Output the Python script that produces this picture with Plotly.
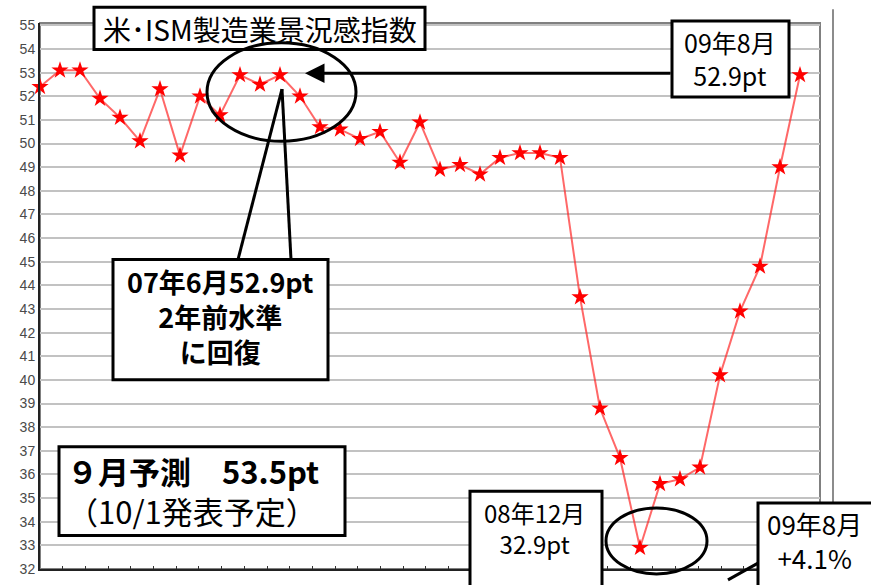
import plotly.graph_objects as go

# ---- data ----
months = [f"{2006 + (5 + i) // 12:04d}/{(5 + i) % 12 + 1:02d}" for i in range(39)]
ism = [52.4, 53.1, 53.1, 51.9, 51.1, 50.1, 52.3, 49.5, 52.0, 51.2,
       52.9, 52.5, 52.9, 52.0, 50.7, 50.6, 50.2, 50.5, 49.2, 50.9,
       48.9, 49.1, 48.7, 49.4, 49.6, 49.6, 49.4, 43.5, 38.8, 36.7,
       32.9, 35.6, 35.8, 36.3, 40.2, 42.9, 44.8, 49.0, 52.9]
y_ticks = list(range(32, 56))

# ---- pixel helpers for the annotation layer ----
L, R, T, B = 40, 820, 23, 577
W, H = 871, 585


def px(x):
    return (x - L) / (R - L)


def py(y):
    return (B - y) / (B - T)


FONT = "Noto Sans CJK JP"

fig = go.Figure()
fig.add_trace(go.Scatter(
    x=months, y=ism, mode="lines+markers",
    line=dict(color="rgba(255,40,40,0.7)", width=2),
    marker=dict(symbol="star", size=13, color="#ff0000",
                line=dict(width=0)),
    cliponaxis=False, showlegend=False, hoverinfo="x+y"))
# invisible trace to carry the tick-mark axis
fig.add_trace(go.Scatter(x=[0], y=[40], xaxis="x2", mode="markers",
                         marker=dict(opacity=0), showlegend=False,
                         hoverinfo="skip"))

shapes = []
# plot frame (top/right gray)
shapes.append(dict(type="rect", xref="paper", yref="paper", x0=0, x1=1,
                   y0=0, y1=1, line=dict(color="#808080", width=2),
                   layer="below"))
# outer vertical line at right
shapes.append(dict(type="line", xref="paper", yref="paper",
                   x0=px(833), x1=px(833), y0=py(9), y1=py(590),
                   line=dict(color="#8c8c8c", width=2)))


def box(x0, y0, x1, y1, lw=3):
    shapes.append(dict(type="rect", xref="paper", yref="paper",
                       x0=px(x0), x1=px(x1), y0=py(y1), y1=py(y0),
                       fillcolor="white", line=dict(color="black", width=lw)))


def seg(x0, y0, x1, y1, lw=3):
    shapes.append(dict(type="line", xref="paper", yref="paper",
                       x0=px(x0), x1=px(x1), y0=py(y0), y1=py(y1),
                       line=dict(color="black", width=lw)))


def ell(x0, y0, x1, y1, lw=3):
    shapes.append(dict(type="circle", xref="paper", yref="paper",
                       x0=px(x0), x1=px(x1), y0=py(y1), y1=py(y0),
                       line=dict(color="black", width=lw)))


# title box
box(94, 7, 425, 50, 3)
# top right 09年8月 box
box(672, 21, 789, 98, 3)
# ellipse around 07年6月
ell(207, 43, 356, 143)
# callout lines to 07年6月 box
seg(238, 263, 282, 90)
seg(291, 263, 282, 90)
box(113, 263, 328, 385, 3)
# forecast box
box(59, 453, 345, 543, 3)
# 08年12月 box + ellipse
box(470, 498, 602, 600, 3)
ell(606, 515, 707, 582)
# 09年8月 +4.1% box + leader
seg(758, 571, 728, 588)
box(758, 510, 900, 600, 3)

ann = []


def txt(x, y, s, size, bold=False, xanchor="center"):
    if bold:
        s = f"<b>{s}</b>"
    ann.append(dict(xref="paper", yref="paper", x=px(x), y=py(y), text=s,
                    showarrow=False, xanchor=xanchor, yanchor="middle",
                    align="center" if xanchor == "center" else "left",
                    font=dict(family=FONT, size=size, color="black")))


txt(260, 29, "米･ISM製造業景況感指数", 28)
txt(730, 59, "09年8月<br>52.9pt", 25)
txt(220, 321, "<b>07年6月52.9pt</b><br><b>2年前水準</b><br><b>に回復</b>", 27)
txt(65, 497, "<b>９月予測　53.5pt</b><br>（10/1発表予定）", 31, xanchor="left")
txt(534, 535, "08年12月<br>32.9pt", 24)
txt(814, 548, "09年8月<br>+4.1%", 26)

# arrow from the 09年8月 box to 07年6月 level
ann.append(dict(xref="paper", yref="paper", x=px(305), y=py(74),
                ax=672 - 305, ay=0, text="", showarrow=True,
                arrowhead=2, arrowsize=1.3, arrowwidth=3,
                arrowcolor="black", standoff=0))

fig.update_layout(
    width=W, height=H,
    margin=dict(l=L, r=W - R, t=T, b=H - B, pad=0),
    paper_bgcolor="white", plot_bgcolor="white",
    shapes=shapes, annotations=ann,
    xaxis=dict(type="category", range=[0, 39], showticklabels=False,
               ticks="", showgrid=False, zeroline=False,
               showline=True, linecolor="#222", linewidth=2),
    xaxis2=dict(overlaying="x", anchor="y", side="bottom",
                range=[0, (R - L) / 22.7], tick0=0, dtick=1,
                ticks="inside", ticklen=3, tickwidth=1, tickcolor="#333",
                showticklabels=False, showgrid=False, zeroline=False,
                showline=False),
    yaxis=dict(range=[32, 55.1], tickvals=y_ticks,
               ticktext=[str(v) for v in y_ticks],
               showgrid=True, gridcolor="#c2c2c2", gridwidth=2,
               zeroline=False, showline=True, linecolor="#222",
               linewidth=2, ticks="",
               tickfont=dict(family="Liberation Sans", size=14,
                             color="#4a4a4a")),
)

fig.write_html("out.html")
